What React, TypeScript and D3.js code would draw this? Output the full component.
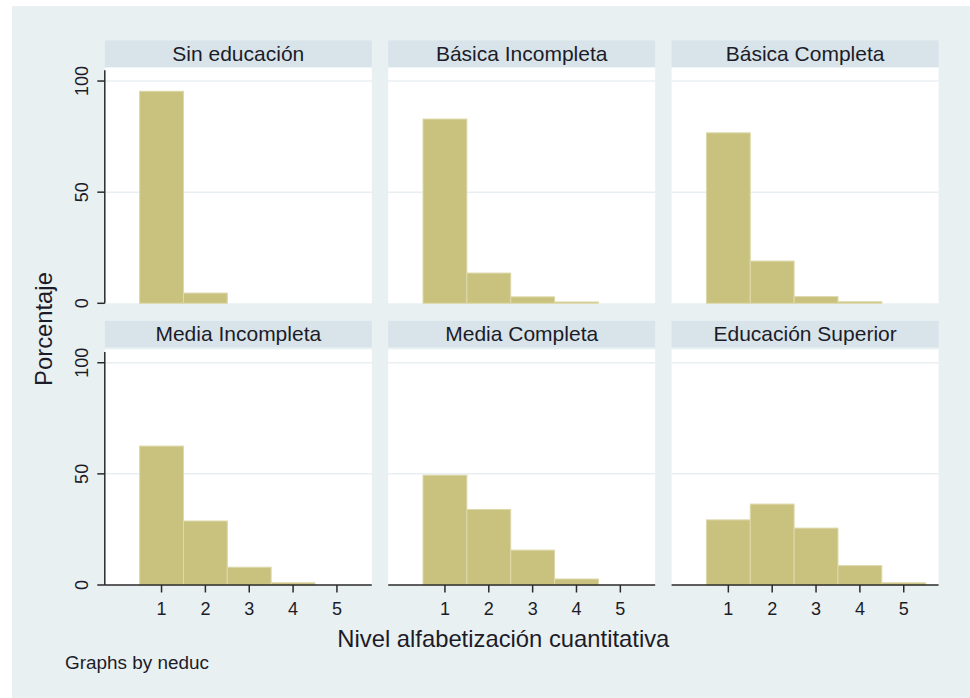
import React from 'react';
import * as d3 from 'd3';

// ---- data ----
const panelTitles = [
  'Sin educación',
  'Básica Incompleta',
  'Básica Completa',
  'Media Incompleta',
  'Media Completa',
  'Educación Superior',
];
const levels = [1, 2, 3, 4, 5];
const sinEducacion = [95.4, 4.6, 0, 0, 0];
const basicaIncompleta = [82.9, 13.6, 2.9, 0.6, 0];
const basicaCompleta = [76.7, 19.0, 3.0, 0.7, 0];
const mediaIncompleta = [62.5, 28.8, 8.0, 1.0, 0];
const mediaCompleta = [49.4, 34.0, 15.7, 2.7, 0];
const educacionSuperior = [29.3, 36.4, 25.6, 8.7, 1.0];
const panelValues = [
  sinEducacion,
  basicaIncompleta,
  basicaCompleta,
  mediaIncompleta,
  mediaCompleta,
  educacionSuperior,
];
const yTicks = [0, 50, 100];
const xTicks = [1, 2, 3, 4, 5];
const yTitle = 'Porcentaje';
const xTitle = 'Nivel alfabetización cuantitativa';
const note = 'Graphs by neduc';

// ---- layout / style ----
const W = 970;
const H = 698;
const FONT = '"Liberation Sans", Arial, Helvetica, sans-serif';
const TEXT = '#1c1c28';
const BG = '#e9f0f2';
const STRIP = '#d8e4ea';
const GRID = '#e8eff2';
const BAR = '#c9c27f';
const BAR_EDGE = '#ddd8aa';
const AXIS = '#2a2a2a';

const colLefts = [104.8, 388.2, 671.6];
const panelW = 267;
const rowBase = [303.3, 585];
const headerTops = [40.4, 320.8];
const headerH = 26.6;
const plotH = 235.6;

function Panel({ idx }: { idx: number }) {
  const col = idx % 3;
  const row = Math.floor(idx / 3);
  const left = colLefts[col];
  const y0 = rowBase[row];
  const x = d3.scaleLinear().domain([-0.294, 5.795]).range([left, left + panelW]);
  const y = d3.scaleLinear().domain([0, 106]).range([y0, y0 - plotH]);
  const vals = panelValues[idx];
  const hTop = headerTops[row];
  const isBottom = row === 1;
  const isLeft = col === 0;
  return (
    <g>
      <rect x={left} y={hTop} width={panelW} height={headerH} fill={STRIP} />
      <text
        x={left + panelW / 2}
        y={hTop + 20.3}
        textAnchor="middle"
        fontSize={21}
        fill={TEXT}
        fontFamily={FONT}
      >
        {panelTitles[idx]}
      </text>
      <rect x={left} y={y(106)} width={panelW} height={y(0) - y(106)} fill="#ffffff" />
      {yTicks
        .filter((t) => t > 0)
        .map((t) => (
          <line key={t} x1={left} x2={left + panelW} y1={y(t)} y2={y(t)} stroke={GRID} strokeWidth={1.5} />
        ))}
      {levels.map((lv, i) =>
        vals[i] > 0 ? (
          <rect
            key={lv}
            x={x(lv - 0.5)}
            y={y(vals[i])}
            width={x(lv + 0.5) - x(lv - 0.5)}
            height={y(0) - y(vals[i])}
            fill={BAR}
            stroke={BAR_EDGE}
            strokeWidth={1}
          />
        ) : null
      )}
      {isLeft && (
        <g>
          <line x1={left} x2={left} y1={y0 - plotH + 2.5} y2={y0} stroke={AXIS} strokeWidth={1.5} />
          {yTicks.map((t) => (
            <g key={t}>
              <line x1={left - 7.5} x2={left} y1={y(t)} y2={y(t)} stroke={AXIS} strokeWidth={1.5} />
              <text
                transform={`translate(${left - 16.5},${y(t)}) rotate(-90)`}
                textAnchor="middle"
                fontSize={18}
                fill={TEXT}
                fontFamily={FONT}
              >
                {t}
              </text>
            </g>
          ))}
        </g>
      )}
      {isBottom && (
        <g>
          <line x1={left} x2={left + panelW} y1={y0} y2={y0} stroke={AXIS} strokeWidth={1.5} />
          {xTicks.map((t) => (
            <g key={t}>
              <line x1={x(t)} x2={x(t)} y1={y0} y2={y0 + 7.5} stroke={AXIS} strokeWidth={1.5} />
              <text
                x={x(t)}
                y={y0 + 30}
                textAnchor="middle"
                fontSize={18}
                fill={TEXT}
                fontFamily={FONT}
              >
                {t}
              </text>
            </g>
          ))}
        </g>
      )}
    </g>
  );
}

export default function App() {
  return (
    <svg
      width={W}
      height={H}
      viewBox={`0 0 ${W} ${H}`}
      style={{ position: 'absolute', left: 0, top: 0, display: 'block' }}
    >
      <rect x={0} y={0} width={W} height={H} fill="#ffffff" />
      <rect x={12} y={6} width={W - 12} height={H - 6} fill={BG} />
      {panelTitles.map((_, i) => (
        <Panel key={i} idx={i} />
      ))}
      <text
        transform="translate(52,329) rotate(-90)"
        textAnchor="middle"
        fontSize={23.8}
        fill={TEXT}
        fontFamily={FONT}
      >
        {yTitle}
      </text>
      <text x={503.3} y={646.7} textAnchor="middle" fontSize={23.8} fill={TEXT} fontFamily={FONT}>
        {xTitle}
      </text>
      <text x={65} y={669.3} fontSize={18.9} fill={TEXT} fontFamily={FONT}>
        {note}
      </text>
    </svg>
  );
}
